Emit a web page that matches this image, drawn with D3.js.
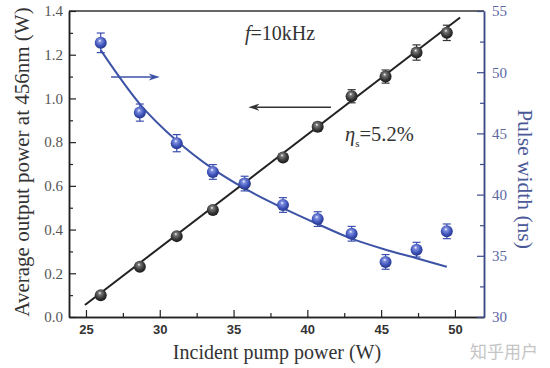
<!DOCTYPE html>
<html>
<head>
<meta charset="utf-8">
<script src="https://cdn.jsdelivr.net/npm/d3@7"></script>
<style>
  body { margin: 0; background: #fff; }
  svg { display: block; }
  .serif { font-family: "Liberation Serif", "Tinos", "Times New Roman", "DejaVu Serif", serif; }
</style>
</head>
<body>
<div id="chart"></div>
<script>
// data
const pumpPower = [26.0, 28.65, 31.15, 33.6, 35.75, 38.35, 40.7, 43.0, 45.3, 47.4, 49.45];
const outputPower = [0.10, 0.23, 0.37, 0.49, 0.61, 0.73, 0.87, 1.01, 1.10, 1.21, 1.30];
const outputErr = [0.012, 0.012, 0.012, 0.015, 0.015, 0.015, 0.02, 0.03, 0.03, 0.035, 0.035];
const pulseWidth = [52.4, 46.7, 44.2, 41.85, 40.9, 39.15, 38.0, 36.8, 34.5, 35.5, 37.0];
const pulseErr = [0.8, 0.7, 0.7, 0.6, 0.6, 0.6, 0.6, 0.6, 0.6, 0.6, 0.6];

// linear fit (slope efficiency 5.2%)
const fitX = [24.93, 50.35];
const fitY = [0.055, 1.37];

// decay fit for pulse width, read as points
const decayX = [26.0, 28.65, 31.15, 33.6, 35.75, 38.35, 40.7, 43.0, 45.3, 47.4, 49.45];
const decayY = [51.8, 47.4, 44.4, 42.1, 40.5, 38.9, 37.6, 36.4, 35.5, 34.8, 34.1];

const xTicks = [25, 30, 35, 40, 45, 50];
const xMinor = [27.5, 32.5, 37.5, 42.5, 47.5];
const yLeftTicks = [0, 0.2, 0.4, 0.6, 0.8, 1.0, 1.2, 1.4];
const yLeftMinor = [0.1, 0.3, 0.5, 0.7, 0.9, 1.1, 1.3];
const yRightTicks = [30, 35, 40, 45, 50, 55];
const yRightMinor = [32.5, 37.5, 42.5, 47.5, 52.5];

const width = 550, height = 368;
const plotLeft = 69, plotRight = 484, plotTop = 11, plotBottom = 317;

const blue = "#3b4fae";
const blueLine = "#3d53a6";
const blueAxis = "#3d4a88";
const dark = "#222";

const svg = d3.select("#chart").append("svg")
    .attr("width", width)
    .attr("height", height);

const x = d3.scaleLinear().domain([23.85, 51.97]).range([plotLeft, plotRight]);
const yL = d3.scaleLinear().domain([0, 1.4]).range([plotBottom, plotTop]);
const yR = d3.scaleLinear().domain([30, 55]).range([plotBottom, plotTop]);

// gradients for the glossy markers
const defs = svg.append("defs");
function ball(id, c0, c1, c2) {
    const g = defs.append("radialGradient").attr("id", id)
        .attr("cx", "45%").attr("cy", "40%").attr("r", "60%")
        .attr("fx", "42%").attr("fy", "32%");
    g.append("stop").attr("offset", "0%").attr("stop-color", "#fff");
    g.append("stop").attr("offset", "22%").attr("stop-color", c0);
    g.append("stop").attr("offset", "70%").attr("stop-color", c1);
    g.append("stop").attr("offset", "100%").attr("stop-color", c2);
}
ball("gBlack", "#777", "#333", "#1a1a1a");
ball("gBlue", "#7f8fe0", "#3a4fb5", "#27368a");

// top frame line
svg.append("line")
    .attr("x1", plotLeft).attr("x2", plotRight)
    .attr("y1", plotTop).attr("y2", plotTop)
    .attr("stroke", "#333").attr("stroke-width", 1.5);

// bottom axis
const gx = svg.append("g").attr("transform", `translate(0,${plotBottom})`);
gx.call(d3.axisBottom(x).tickValues(xTicks).tickSizeInner(-7).tickSizeOuter(0).tickPadding(8));
gx.append("g").call(d3.axisBottom(x).tickValues(xMinor).tickSizeInner(-4).tickSizeOuter(0).tickFormat(""));
gx.selectAll(".domain").attr("stroke", dark).attr("stroke-width", 1.5);
gx.selectAll(".tick line").attr("stroke", dark).attr("stroke-width", 1.2);
gx.selectAll("text")
    .attr("font-family", "'Liberation Sans', Arial, sans-serif")
    .attr("font-weight", "bold")
    .attr("font-size", 13)
    .attr("fill", "#333");

// left axis
const gy = svg.append("g").attr("transform", `translate(${plotLeft},0)`);
gy.call(d3.axisLeft(yL).tickValues(yLeftTicks).tickSizeInner(-7).tickSizeOuter(0).tickPadding(6).tickFormat(d3.format(".1f")));
gy.append("g").call(d3.axisLeft(yL).tickValues(yLeftMinor).tickSizeInner(-4).tickSizeOuter(0).tickFormat(""));
gy.selectAll(".domain").attr("stroke", dark).attr("stroke-width", 1.5);
gy.selectAll(".tick line").attr("stroke", dark).attr("stroke-width", 1.2);
gy.attr("font-family", null);
gy.selectAll("text")
    .attr("class", "serif")
    .attr("font-size", 15)
    .attr("fill", "#555");

// right axis
const gr = svg.append("g").attr("transform", `translate(${plotRight},0)`);
gr.call(d3.axisRight(yR).tickValues(yRightTicks).tickSizeInner(-7).tickSizeOuter(0).tickPadding(8));
gr.append("g").call(d3.axisRight(yR).tickValues(yRightMinor).tickSizeInner(-4).tickSizeOuter(0).tickFormat(""));
gr.selectAll(".domain").attr("stroke", blueAxis).attr("stroke-width", 1.5);
gr.selectAll(".tick line").attr("stroke", blueAxis).attr("stroke-width", 1.2);
gr.attr("font-family", null);
gr.selectAll("text")
    .attr("class", "serif")
    .attr("font-size", 15)
    .attr("fill", "#5b66a3");

// axis titles
svg.append("text")
    .attr("class", "serif")
    .attr("transform", `translate(22,162) rotate(-90)`)
    .attr("text-anchor", "middle")
    .attr("dy", "0.35em")
    .attr("font-size", 21)
    .attr("fill", "#333")
    .text("Average output power at 456nm (W)");

svg.append("text")
    .attr("class", "serif")
    .attr("x", 277).attr("y", 359)
    .attr("text-anchor", "middle")
    .attr("font-size", 20)
    .attr("fill", "#333")
    .text("Incident pump power (W)");

svg.append("text")
    .attr("class", "serif")
    .attr("transform", `translate(526,179) rotate(90)`)
    .attr("text-anchor", "middle")
    .attr("dy", "0.35em")
    .attr("font-size", 21.5)
    .attr("fill", "#4a5898")
    .text("Pulse width (ns)");

// fit lines
const decayLine = d3.line()
    .x(d => x(d[0])).y(d => yR(d[1]))
    .curve(d3.curveMonotoneX);
svg.append("path")
    .datum(d3.zip(decayX, decayY))
    .attr("d", decayLine)
    .attr("fill", "none")
    .attr("stroke", blueLine)
    .attr("stroke-width", 2);

svg.append("line")
    .attr("x1", x(fitX[0])).attr("y1", yL(fitY[0]))
    .attr("x2", x(fitX[1])).attr("y2", yL(fitY[1]))
    .attr("stroke", dark)
    .attr("stroke-width", 2);

// error bars + markers
function series(vals, errs, yScale, color, grad) {
    const g = svg.append("g");
    const pts = pumpPower.map((p, i) => ({ x: p, y: vals[i], e: errs[i] }));
    const eb = g.selectAll("g.eb").data(pts).enter().append("g").attr("class", "eb")
        .attr("stroke", color).attr("stroke-width", 1.2);
    eb.append("line")
        .attr("x1", d => x(d.x)).attr("x2", d => x(d.x))
        .attr("y1", d => yScale(d.y - d.e)).attr("y2", d => yScale(d.y + d.e));
    eb.append("line")
        .attr("x1", d => x(d.x) - 4).attr("x2", d => x(d.x) + 4)
        .attr("y1", d => yScale(d.y + d.e)).attr("y2", d => yScale(d.y + d.e));
    eb.append("line")
        .attr("x1", d => x(d.x) - 4).attr("x2", d => x(d.x) + 4)
        .attr("y1", d => yScale(d.y - d.e)).attr("y2", d => yScale(d.y - d.e));
    g.selectAll("circle").data(pts).enter().append("circle")
        .attr("cx", d => x(d.x)).attr("cy", d => yScale(d.y))
        .attr("r", 6)
        .attr("fill", `url(#${grad})`);
}
series(outputPower, outputErr, yL, "#333", "gBlack");
series(pulseWidth, pulseErr, yR, blue, "gBlue");

// arrows
function arrow(x1, x2, y, color) {
    const dir = Math.sign(x2 - x1);
    svg.append("line")
        .attr("x1", x1).attr("x2", x2 - dir * 8)
        .attr("y1", y).attr("y2", y)
        .attr("stroke", color).attr("stroke-width", 1.5);
    svg.append("path")
        .attr("d", `M${x2},${y} L${x2 - dir * 11},${y - 3.5} L${x2 - dir * 8},${y} L${x2 - dir * 11},${y + 3.5} Z`)
        .attr("fill", color);
}
arrow(x(26.7), x(30.0), yR(49.6), blueLine);
arrow(x(41.6), x(36.0), yL(0.96), "#333");

// annotations
const fText = svg.append("text")
    .attr("class", "serif")
    .attr("x", 245).attr("y", 40)
    .attr("font-size", 20)
    .attr("fill", "#333");
fText.append("tspan").attr("font-style", "italic").text("f");
fText.append("tspan").text("=10kHz");

const eta = svg.append("text")
    .attr("class", "serif")
    .attr("x", 345).attr("y", 141)
    .attr("font-size", 20.5)
    .attr("fill", "#333");
eta.append("tspan").attr("font-style", "italic").text("η");
eta.append("tspan").attr("font-size", 11).attr("dy", 6).text("s");
eta.append("tspan").attr("dy", -6).text("=5.2%");

// watermark
svg.append("text")
    .attr("x", 470).attr("y", 358)
    .attr("font-family", "'Noto Sans CJK SC', sans-serif")
    .attr("font-size", 17)
    .attr("fill", "#c4c4c4")
    .text("知乎用户");
</script>
</body>
</html>
